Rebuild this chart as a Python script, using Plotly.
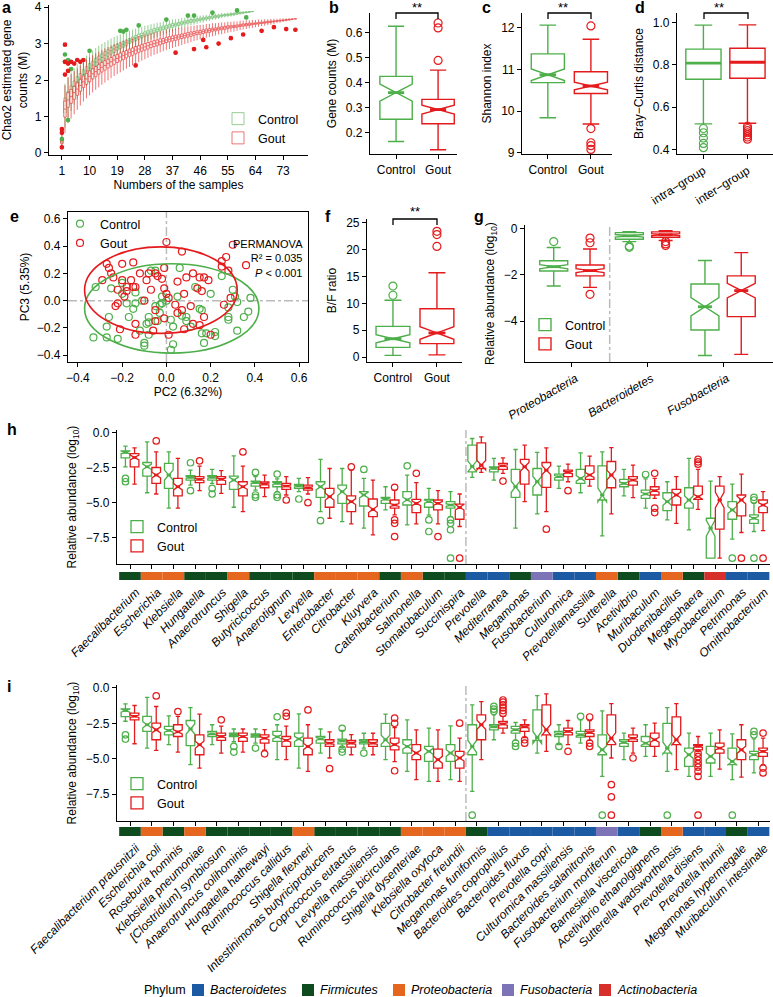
import plotly.graph_objects as go

W, H = 773, 997
FONT = "Arial, Liberation Sans, sans-serif"
GREEN = "#4DAF4A"
RED = "#E41A1C"
PHYLA = ["Bacteroidetes", "Firmicutes", "Proteobacteria", "Fusobacteria", "Actinobacteria"]
PHYLUM_COLORS = ["#1C5AA4", "#0E4B1F", "#E5661E", "#7D73B7", "#D7302B"]

# ---- a: Chao2 rarefaction, one box per number of samples
a_ctrl_med = [0.33, 1.30, 1.50, 1.68, 1.82, 1.95, 2.05, 2.15, 2.25, 2.33,
              2.41, 2.49, 2.56, 2.62, 2.68, 2.74, 2.80, 2.85, 2.90, 2.94,
              2.98, 3.02, 3.07, 3.11, 3.15, 3.19, 3.22, 3.26, 3.29, 3.32,
              3.35, 3.38, 3.40, 3.43, 3.45, 3.48, 3.50, 3.52, 3.54, 3.56,
              3.58, 3.60, 3.62, 3.63, 3.65, 3.67, 3.68, 3.70, 3.71, 3.73,
              3.74, 3.75, 3.77, 3.78, 3.79, 3.80, 3.81, 3.83, 3.84, 3.85,
              3.86, 3.87, 3.88]
a_ctrl_iqr = [0.05, 0.20, 0.18, 0.16, 0.15, 0.14, 0.13, 0.13, 0.12, 0.12,
              0.11, 0.11, 0.10, 0.10, 0.10, 0.09, 0.09, 0.09, 0.08, 0.08,
              0.08, 0.08, 0.07, 0.07, 0.07, 0.07, 0.06, 0.06, 0.06, 0.06,
              0.06, 0.05, 0.05, 0.05, 0.05, 0.05, 0.05, 0.04, 0.04, 0.04,
              0.04, 0.04, 0.04, 0.04, 0.03, 0.03, 0.03, 0.03, 0.03, 0.03,
              0.03, 0.03, 0.02, 0.02, 0.02, 0.02, 0.02, 0.02, 0.02, 0.01,
              0.01, 0.01, 0.00]
a_ctrl_whisk = [0.15, 0.60, 0.56, 0.53, 0.50, 0.48, 0.46, 0.44, 0.42, 0.41,
                0.40, 0.39, 0.38, 0.37, 0.36, 0.35, 0.34, 0.33, 0.32, 0.31,
                0.30, 0.29, 0.28, 0.27, 0.26, 0.25, 0.24, 0.23, 0.22, 0.21,
                0.20, 0.19, 0.18, 0.18, 0.17, 0.16, 0.16, 0.15, 0.14, 0.14,
                0.13, 0.12, 0.12, 0.11, 0.11, 0.10, 0.10, 0.09, 0.09, 0.08,
                0.08, 0.07, 0.07, 0.06, 0.06, 0.06, 0.05, 0.05, 0.04, 0.04,
                0.03, 0.02, 0.00]
a_gout_med = [0.30, 1.20, 1.45, 1.55, 1.65, 1.75, 1.85, 1.95, 2.03, 2.10,
              2.17, 2.23, 2.29, 2.35, 2.40, 2.45, 2.50, 2.55, 2.59, 2.63,
              2.67, 2.71, 2.75, 2.78, 2.82, 2.85, 2.88, 2.91, 2.94, 2.97,
              3.00, 3.02, 3.05, 3.07, 3.10, 3.12, 3.14, 3.16, 3.18, 3.20,
              3.22, 3.24, 3.26, 3.28, 3.30, 3.31, 3.33, 3.35, 3.36, 3.38,
              3.39, 3.41, 3.42, 3.43, 3.45, 3.46, 3.47, 3.48, 3.50, 3.51,
              3.52, 3.53, 3.54, 3.55, 3.56, 3.57, 3.58, 3.59, 3.60, 3.61,
              3.62, 3.63, 3.64, 3.65, 3.66, 3.67, 3.68]
a_gout_iqr = [0.05, 0.22, 0.20, 0.19, 0.18, 0.17, 0.16, 0.16, 0.15, 0.15,
              0.14, 0.14, 0.13, 0.13, 0.13, 0.12, 0.12, 0.12, 0.11, 0.11,
              0.11, 0.10, 0.10, 0.10, 0.10, 0.09, 0.09, 0.09, 0.09, 0.08,
              0.08, 0.08, 0.08, 0.07, 0.07, 0.07, 0.07, 0.07, 0.06, 0.06,
              0.06, 0.06, 0.06, 0.05, 0.05, 0.05, 0.05, 0.05, 0.05, 0.04,
              0.04, 0.04, 0.04, 0.04, 0.04, 0.03, 0.03, 0.03, 0.03, 0.03,
              0.03, 0.03, 0.02, 0.02, 0.02, 0.02, 0.02, 0.02, 0.02, 0.01,
              0.01, 0.01, 0.01, 0.01, 0.01, 0.00, 0.00]
a_gout_whisk = [0.20, 0.65, 0.63, 0.61, 0.59, 0.57, 0.55, 0.54, 0.53, 0.52,
                0.51, 0.50, 0.49, 0.48, 0.47, 0.46, 0.45, 0.44, 0.43, 0.42,
                0.41, 0.40, 0.39, 0.38, 0.37, 0.36, 0.35, 0.34, 0.33, 0.32,
                0.31, 0.30, 0.29, 0.28, 0.28, 0.27, 0.26, 0.25, 0.25, 0.24,
                0.23, 0.23, 0.22, 0.21, 0.21, 0.20, 0.19, 0.19, 0.18, 0.18,
                0.17, 0.16, 0.16, 0.15, 0.15, 0.14, 0.14, 0.13, 0.13, 0.12,
                0.12, 0.11, 0.11, 0.10, 0.10, 0.09, 0.09, 0.08, 0.08, 0.07,
                0.06, 0.06, 0.05, 0.04, 0.03, 0.02, 0.00]
a_ctrl_out_n = [1, 2, 2, 3, 3, 4, 10, 20, 21, 22, 26, 35, 42, 44, 50, 58, 61]
a_ctrl_out_v = [0.38, 2.70, 2.50, 2.55, 0.90, 2.30, 2.80, 3.35, 3.33, 3.38, 3.50, 3.66,
                3.77, 3.77, 3.85, 3.91, 3.72]
a_gout_out_n = [1, 1, 1, 2, 2, 2, 3, 3, 4, 5, 6, 7, 8, 25, 38, 44, 47, 48, 52, 56, 60,
                66, 70, 74, 77]
a_gout_out_v = [0.65, 0.55, 0.15, 2.97, 2.50, 2.15, 2.45, 2.25, 2.50, 2.45, 2.55, 2.50,
                2.55, 2.40, 2.75, 2.85, 3.10, 2.90, 3.00, 3.15, 3.25, 3.35, 3.45, 3.40, 3.38]
a_ticks = [1, 10, 19, 28, 37, 46, 55, 64, 73]

GROUPS = ["Control", "Gout"]
N_CTRL, N_GOUT = len(a_ctrl_med), len(a_gout_med)

# ---- b, c, d, f: two-group boxes  (index 0 = Control, 1 = Gout)
b_q1, b_med, b_q3 = [0.254, 0.236], [0.361, 0.293], [0.426, 0.334]
b_lo, b_hi = [0.165, 0.132], [0.627, 0.451]
b_out = [[], [0.49, 0.62, 0.64]]

c_q1, c_med, c_q3 = [10.68, 10.42], [10.87, 10.60], [11.37, 10.94]
c_lo, c_hi = [9.84, 9.69], [12.06, 11.72]
c_out = [[], [12.04, 9.58, 9.24, 9.17, 9.08]]

d_labels = ["intra\u2212group", "inter\u2212group"]
d_q1, d_med, d_q3 = [0.732, 0.737], [0.808, 0.812], [0.874, 0.878]
d_lo, d_hi = [0.522, 0.525], [0.987, 0.988]
d_out = [[0.50, 0.48, 0.455, 0.43, 0.41], [0.51, 0.50, 0.49, 0.48, 0.47, 0.46, 0.45]]

f_q1, f_med, f_q3 = [1.8, 2.5], [3.4, 4.48], [5.7, 9.0]
f_lo, f_hi = [0.3, 0.4], [10.56, 15.7]
f_out = [[11.5, 13.2], [20.6, 22.8, 23.4]]

# ---- e: PCoA
e_ctrl_pc2 = [-0.32, -0.33, -0.27, -0.27, -0.26, -0.22, -0.17, -0.15, -0.25, -0.2, -0.2,
              -0.14, -0.11, -0.12, -0.1, -0.1, -0.08, -0.08, -0.05, -0.05, -0.03, -0.02,
              -0.02, 0.0, -0.03, -0.04, 0.02, 0.03, 0.02, 0.03, 0.05, 0.06, 0.07, 0.09,
              0.09, 0.11, 0.13, 0.15, 0.16, 0.16, 0.17, 0.18, 0.2, 0.22, 0.22, 0.25, 0.28,
              0.28, 0.28, 0.3, 0.31, 0.32, 0.32, 0.38, 0.37, 0.35, -0.07, -0.18, -0.09,
              -0.08, -0.14]
e_ctrl_pc3 = [0.1, -0.27, -0.27, -0.19, -0.12, -0.28, -0.12, -0.06, 0.09, 0.13, 0.05,
              0.06, 0.0, -0.22, -0.31, -0.33, -0.12, -0.16, 0.22, -0.04, -0.03, -0.02,
              0.03, 0.0, -0.09, -0.15, -0.14, -0.32, -0.36, -0.19, 0.03, 0.24, -0.11,
              -0.12, -0.15, -0.19, 0.1, -0.06, -0.07, -0.24, -0.31, -0.24, 0.05, -0.23,
              -0.26, 0.18, -0.05, -0.12, -0.14, 0.08, 0.03, -0.01, -0.22, 0.02, -0.08,
              -0.12, 0.22, -0.02, -0.17, -0.25, -0.02]
e_gout_pc2 = [0.0, 0.07, -0.27, -0.26, -0.25, -0.2, -0.15, -0.12, -0.08, -0.05, -0.04,
              -0.01, -0.29, -0.24, -0.2, -0.16, -0.02, 0.05, 0.09, 0.12, 0.15, 0.17, 0.19,
              -0.18, -0.15, -0.14, -0.22, -0.18, -0.19, -0.22, -0.23, -0.07, -0.01, 0.0,
              0.01, 0.08, 0.14, 0.16, -0.05, -0.01, -0.05, -0.06, -0.14, 0.01, 0.08, 0.12,
              0.15, 0.2, -0.21, 0.04, 0.11, 0.17, 0.26, 0.29, 0.25, 0.25, 0.27, 0.3, 0.36,
              0.28, -0.14, 0.05, -0.1, 0.07, -0.09]
e_gout_pc3 = [0.43, 0.36, 0.27, 0.24, 0.2, 0.27, 0.28, 0.2, 0.2, 0.2, 0.18, 0.24, 0.15,
              0.17, 0.15, 0.15, 0.16, 0.14, 0.17, 0.2, 0.17, 0.17, 0.15, 0.1, 0.1, 0.1,
              0.08, 0.07, 0.03, -0.02, -0.04, 0.08, 0.09, 0.05, 0.02, 0.05, 0.09, 0.07,
              -0.07, -0.13, -0.15, -0.22, -0.25, -0.25, -0.21, -0.17, -0.18, -0.25, -0.21,
              -0.03, -0.04, -0.12, -0.03, 0.02, 0.25, 0.29, 0.32, 0.41, 0.26, 0.22, -0.17,
              -0.09, 0.0, -0.07, 0.15]
ell_cx, ell_cy = [0.024, -0.025], [-0.057, 0.077]
ell_rx, ell_ry = [0.394, 0.345], [0.328, 0.317]

# ---- g: phylum level
g_phyla = ["Proteobacteria", "Bacteroidetes", "Fusobacteria"]
g_ctrl_q1, g_ctrl_med, g_ctrl_q3 = [-1.83, -0.45, -4.39], [-1.64, -0.30, -3.38], [-1.38, -0.16, -2.39]
g_ctrl_lo, g_ctrl_hi = [-2.48, -0.55, -5.50], [-0.81, -0.12, -1.37]
g_ctrl_out = [[-0.55], [-0.75, -0.80], []]
g_gout_q1, g_gout_med, g_gout_q3 = [-2.04, -0.36, -3.81], [-1.81, -0.25, -2.68], [-1.57, -0.13, -2.04]
g_gout_lo, g_gout_hi = [-2.54, -0.50, -5.45], [-0.87, -0.08, -1.03]
g_gout_out = [[-0.40, -0.60, -2.84], [-0.55, -0.65, -0.72], []]

# ---- h: genus level
h_names = ["Faecalibacterium", "Escherichia", "Klebsiella", "Hungatella", "Anaerotruncus",
           "Shigella", "Butyricicoccus", "Anaerotignum", "Levyella", "Enterobacter",
           "Citrobacter", "Kluyvera", "Catenibacterium", "Salmonella", "Stomatobaculum",
           "Succinispira", "Prevotella", "Mediterranea", "Megamonas", "Fusobacterium",
           "Culturomica", "Prevotellamassilia", "Sutterella", "Acetivibrio", "Muribaculum",
           "Duodenibacillus", "Megasphaera", "Mycobacterium", "Petrimonas", "Ornithobacterium"]
h_phylum = [1, 2, 2, 1, 1, 2, 1, 1, 1, 2, 2, 2, 1, 2, 1, 1, 0, 0, 1, 3, 0, 0, 2, 1, 0, 2, 1, 4, 0, 0]
h_ctrl_q1 = [-1.79, -3.10, -3.98, -3.38, -3.38, -4.05, -3.81, -3.86, -3.98, -4.62, -5.05, -5.24,
             -5.05, -5.17, -5.33, -5.40, -2.79, -2.79, -4.62, -4.45, -3.38, -3.62, -4.81, -3.86,
             -4.69, -5.57, -5.40, -8.98, -6.19, -6.48]
h_ctrl_med = [-1.40, -2.43, -3.02, -3.19, -3.19, -3.38, -3.57, -3.62, -3.81, -3.86, -4.21, -4.45,
              -4.76, -4.80, -4.93, -5.17, -2.40, -2.55, -3.86, -3.50, -3.14, -3.26, -4.45, -3.62,
              -4.38, -4.93, -4.81, -6.83, -5.52, -6.12]
h_ctrl_q3 = [-1.29, -2.12, -2.19, -3.07, -3.07, -3.10, -3.45, -3.50, -3.69, -3.50, -3.74, -4.21,
             -4.62, -4.21, -4.76, -4.93, -0.88, -2.43, -2.62, -2.55, -2.95, -2.62, -2.36, -3.33,
             -4.10, -4.29, -3.93, -6.12, -4.93, -5.88]
h_ctrl_lo = [-2.43, -4.29, -5.40, -3.74, -3.62, -5.33, -4.10, -4.21, -4.21, -5.64, -6.36, -6.83,
             -5.52, -6.60, -5.90, -6.00, -3.19, -3.38, -6.83, -5.81, -3.98, -4.29, -7.38, -4.52,
             -5.40, -6.24, -6.95, -8.98, -7.62, -7.07]
h_ctrl_hi = [-0.95, -0.64, -1.36, -2.67, -2.62, -1.64, -3.14, -3.30, -3.26, -1.90, -2.55, -3.26,
             -3.86, -3.02, -3.98, -4.21, -0.40, -1.83, -1.19, -1.40, -2.38, -1.43, -1.36, -2.62,
             -3.30, -3.50, -1.83, -3.45, -3.67, -5.05]
h_ctrl_out = [[-3.26, -3.5], [], [], [-2.14, -4.14], [-3.98, -4.38], [], [-2.83, -4.45, -4.62],
              [-2.95, -4.45, -4.62], [-4.74], [-6.29], [], [-2.62], [], [-2.36], [-6.24, -7.07],
              [-6.24, -6.48, -6.95, -8.98], [], [], [], [], [], [], [], [], [-2.98], [], [], [],
              [-8.98], [-4.62, -4.81, -8.98]]
h_gout_q1 = [-2.43, -3.62, -4.52, -3.57, -3.69, -4.52, -3.93, -4.05, -4.10, -5.33, -5.64, -6.00,
             -5.40, -5.71, -5.52, -6.19, -2.55, -2.62, -3.67, -3.90, -3.14, -3.33, -3.93, -3.74,
             -4.45, -5.17, -4.76, -6.90, -5.95, -5.71]
h_gout_med = [-1.76, -3.02, -3.86, -3.33, -3.33, -3.86, -3.67, -3.81, -3.93, -4.57, -4.93, -5.48,
              -5.17, -5.05, -5.05, -5.33, -2.31, -2.36, -2.43, -2.67, -2.83, -3.02, -3.02, -3.38,
              -4.14, -4.45, -4.57, -4.81, -4.81, -5.17]
h_gout_q3 = [-1.48, -2.48, -3.26, -3.14, -3.14, -3.50, -3.52, -3.62, -3.74, -3.98, -4.52, -4.74,
             -4.81, -4.76, -4.81, -5.10, -0.71, -2.19, -1.90, -2.12, -2.67, -2.36, -2.05, -3.14,
             -3.86, -4.05, -3.81, -3.81, -4.45, -4.81]
h_gout_lo = [-3.67, -4.38, -5.40, -4.14, -4.33, -5.64, -4.57, -4.45, -4.38, -6.12, -6.52, -7.31,
             -5.88, -6.52, -6.52, -6.71, -2.83, -2.90, -4.93, -5.64, -3.50, -3.81, -5.81, -4.64,
             -4.69, -6.48, -5.48, -8.98, -7.14, -7.00]
h_gout_hi = [-1.07, -1.36, -1.83, -2.38, -2.71, -2.38, -3.02, -3.14, -3.21, -2.55, -2.67, -3.38,
             -4.10, -3.57, -4.14, -4.38, -0.29, -1.79, -0.88, -1.07, -2.24, -1.67, -1.05, -2.31,
             -3.26, -3.14, -2.62, -3.14, -2.95, -4.21]
h_gout_out = [[], [-0.57], [], [-2.0], [], [-1.36], [], [-4.81], [-5.0], [], [-2.43], [],
              [-3.9, -6.24, -6.48, -7.43], [-2.9], [-7.43], [-8.98], [], [-3.45], [], [-6.9],
              [-4.14], [], [], [], [-2.9, -5.4, -5.71], [], [-1.9, -2.07, -2.24], [], [-8.98],
              [-8.98]]

# ---- i: species level
i_names = ["Faecalibacterium prausnitzii", "Escherichia coli", "Roseburia hominis",
           "Klebsiella pneumoniae", "[Clostridium] symbiosum", "Anaerotruncus colihominis",
           "Hungatella hathewayi", "Ruminococcus callidus", "Shigella flexneri",
           "Intestinimonas butyriciproducens", "Coprococcus eutactus", "Levyella massiliensis",
           "Ruminococcus bicirculans", "Shigella dysenteriae", "Klebsiella oxytoca",
           "Citrobacter freundii", "Megamonas funiformis", "Bacteroides coprophilus",
           "Bacteroides fluxus", "Prevotella copri", "Culturomica massiliensis",
           "Bacteroides salanitronis", "Fusobacterium mortiferum", "Barnesiella viscericola",
           "Acetivibrio ethanolgignens", "Sutterella wadsworthensis", "Prevotella disiens",
           "Prevotella ihumii", "Megamonas hypermegale", "Muribaculum intestinale"]
i_phylum = [1, 2, 1, 2, 1, 1, 1, 1, 2, 1, 1, 1, 1, 2, 2, 2, 1, 0, 0, 0, 0, 0, 3, 0, 1, 2, 0, 0, 1, 0]
i_ctrl_q1 = [-2.02, -3.07, -3.31, -4.08, -3.43, -3.43, -3.48, -3.78, -4.13, -3.90, -3.95, -3.95,
             -4.13, -4.60, -5.19, -5.19, -4.72, -2.96, -3.19, -3.70, -3.43, -3.48, -4.72, -4.13,
             -4.13, -4.60, -5.54, -5.30, -5.42, -5.07]
i_ctrl_med = [-1.60, -2.60, -3.00, -2.90, -3.24, -3.30, -3.35, -3.45, -3.60, -3.60, -3.75, -3.80,
              -3.66, -4.13, -4.48, -4.60, -4.13, -2.75, -2.95, -3.50, -3.24, -3.30, -4.37, -3.85,
              -3.90, -4.25, -4.72, -4.83, -5.19, -4.72]
i_ctrl_q3 = [-1.48, -2.00, -2.72, -2.30, -3.07, -3.19, -3.24, -3.07, -3.19, -3.43, -3.61, -3.66,
             -2.50, -3.66, -4.13, -4.01, -2.60, -2.60, -2.72, -1.55, -3.07, -3.07, -3.31, -3.66,
             -3.43, -2.50, -4.25, -4.13, -4.25, -4.48]
i_ctrl_lo = [-2.35, -4.25, -4.01, -5.42, -4.01, -3.80, -3.90, -5.07, -5.66, -4.60, -4.20, -4.25,
             -5.07, -5.90, -6.60, -6.48, -7.30, -3.66, -3.70, -4.60, -4.01, -3.90, -6.25, -5.07,
             -4.83, -5.90, -6.25, -6.25, -6.48, -6.00]
i_ctrl_hi = [-1.13, -0.66, -1.97, -1.39, -2.60, -2.90, -2.90, -2.60, -1.83, -2.90, -3.00, -3.20,
             -1.85, -2.25, -2.84, -2.68, -1.20, -1.90, -2.44, -0.54, -2.60, -2.25, -1.62, -3.19,
             -2.60, -1.39, -3.19, -3.19, -3.24, -3.60]
i_ctrl_out = [[-3.31, -3.61], [], [], [], [], [-4.13, -4.53], [-4.25], [-2.04], [], [],
              [-2.85, -4.32, -4.53], [-4.6], [], [], [], [], [-8.99], [-1.3, -1.5, -1.65],
              [-3.9, -4.13], [], [-4.13], [-2.0], [-8.99], [], [], [-8.99], [], [], [-8.99],
              [-3.07, -3.31]]
i_gout_q1 = [-2.25, -3.66, -3.43, -4.72, -3.70, -3.78, -3.90, -4.13, -4.72, -4.13, -4.18, -4.13,
             -4.37, -5.07, -5.66, -5.66, -3.66, -2.84, -3.07, -3.31, -3.31, -3.43, -4.01, -3.78,
             -4.13, -4.01, -4.37, -4.60, -5.07, -4.83]
i_gout_med = [-2.00, -2.96, -3.10, -4.01, -3.43, -3.43, -3.55, -3.70, -4.13, -3.90, -3.90, -3.90,
              -4.00, -4.60, -5.07, -4.95, -2.60, -2.55, -2.75, -2.96, -3.07, -3.15, -3.55, -3.55,
              -3.66, -3.66, -4.13, -4.25, -4.37, -4.48]
i_gout_q3 = [-1.78, -2.49, -2.60, -3.31, -3.19, -3.19, -3.31, -3.43, -3.55, -3.66, -3.71, -3.66,
             -3.55, -4.01, -4.32, -4.48, -1.90, -2.37, -2.60, -1.20, -2.84, -2.96, -1.90, -3.31,
             -3.19, -2.04, -4.01, -3.90, -3.66, -4.25]
i_gout_lo = [-3.94, -4.41, -4.53, -5.66, -4.60, -4.53, -4.40, -5.07, -5.90, -4.95, -4.72, -4.72,
             -5.20, -6.48, -6.60, -6.60, -5.07, -3.19, -3.50, -4.48, -4.00, -3.70, -4.95, -4.60,
             -4.83, -5.77, -4.50, -5.73, -6.30, -5.42]
i_gout_hi = [-1.24, -1.31, -2.00, -1.85, -2.70, -2.90, -2.95, -2.70, -2.60, -3.10, -3.30, -3.20,
             -2.80, -2.96, -2.96, -3.54, -0.96, -2.00, -2.25, -0.42, -2.30, -2.30, -1.10, -2.84,
             -2.49, -1.10, -3.43, -2.96, -2.60, -3.55]
i_gout_out = [[], [-0.56], [-1.67], [], [-2.25], [], [-4.65], [-1.76, -2.0], [-1.55], [-5.7],
              [], [], [-2.13, -2.5, -5.85], [], [], [-2.49], [],
              [-0.85, -1.0, -1.2, -1.4, -1.6, -1.8], [-3.66, -3.9], [], [-4.48],
              [-2.05, -3.9, -4.13], [-6.83, -7.7, -8.99], [-4.95], [], [],
              [-4.6, -4.85, -5.1, -5.35, -5.6, -5.9, -6.25, -8.99], [], [], [-3.19, -5.66, -6.0]]

fig = go.Figure()


def sfx(n):
    return "" if n == 1 else str(n)


AXIS = dict(showline=True, linecolor="black", linewidth=1.2, ticks="outside", ticklen=4,
            tickwidth=1.2, tickcolor="black", showgrid=False, zeroline=False, automargin=False,
            tickfont=dict(size=12, color="black"), title_font=dict(size=12, color="black"))


def set_axes(n, x0, x1, y0, y1, xopts, yopts):
    s = sfx(n)
    fig.update_layout(**{
        "xaxis" + s: {**AXIS, "domain": [x0 / W, x1 / W], "anchor": "y" + s, **xopts},
        "yaxis" + s: {**AXIS, "domain": [1 - y1 / H, 1 - y0 / H], "anchor": "x" + s, **yopts},
    })


def add_boxes(n, pos, q1, med, q3, lo, hi, color, width, n_obs=None, name="",
              legend=None, lw=1.4, whisk=0.5, opacity=1.0, bold=True):
    s = sfx(n)
    notch = None
    if n_obs:
        notch = [1.58 * (b - a) / n_obs ** 0.5 for a, b in zip(q1, q3)]
    fig.add_trace(go.Box(
        x=pos, q1=q1, median=med, q3=q3, lowerfence=lo, upperfence=hi,
        notched=notch is not None, notchspan=notch, notchwidth=0.5, width=width,
        fillcolor="white", line=dict(color=color, width=lw), whiskerwidth=whisk,
        boxpoints=False, orientation="v", opacity=opacity, name=name,
        showlegend=legend is not None, legend=legend or "legend",
        xaxis="x" + s, yaxis="y" + s, hoverinfo="skip"))
    if bold:
        half = width / 4 if notch else width / 2
        xs, ys = [], []
        for p, m in zip(pos, med):
            xs += [p - half, p + half, None]
            ys += [m, m, None]
        fig.add_trace(go.Scatter(x=xs, y=ys, mode="lines", line=dict(color=color, width=lw * 2),
                                 showlegend=False, hoverinfo="skip", xaxis="x" + s, yaxis="y" + s))


def add_points(n, pos, outs, color, size=7, symbol="circle-open"):
    s = sfx(n)
    xs, ys = [], []
    for p, vals in zip(pos, outs):
        xs += [p] * len(vals)
        ys += vals
    fig.add_trace(go.Scatter(x=xs, y=ys, mode="markers", showlegend=False, hoverinfo="skip",
                             marker=dict(symbol=symbol, size=size, color=color,
                                         line=dict(color=color, width=1.2)),
                             xaxis="x" + s, yaxis="y" + s))


def bracket(x0, x1, y, label_y):
    fig.add_shape(type="path", xref="paper", yref="paper",
                  path=f"M {x0 / W},{1 - (y + 6) / H} L {x0 / W},{1 - y / H} "
                       f"L {x1 / W},{1 - y / H} L {x1 / W},{1 - (y + 6) / H}",
                  line=dict(color="black", width=1.3))
    fig.add_annotation(x=(x0 + x1) / 2 / W, y=1 - label_y / H, xref="paper", yref="paper",
                       text="**", showarrow=False, font=dict(size=13), yanchor="middle")


# ---- a
nc = list(range(1, N_CTRL + 1))
ng = list(range(1, N_GOUT + 1))
for pos, med, iqr, wh, col, nm in [(nc, a_ctrl_med, a_ctrl_iqr, a_ctrl_whisk, GREEN, "Control"),
                                   (ng, a_gout_med, a_gout_iqr, a_gout_whisk, RED, "Gout")]:
    add_boxes(1, pos, [m - d for m, d in zip(med, iqr)], med, [m + d for m, d in zip(med, iqr)],
              [m - w for m, w in zip(med, wh)], [m + w for m, w in zip(med, wh)], col, 0.8,
              name=nm, legend="legend", lw=0.8, whisk=0, opacity=0.75, bold=False)
add_points(1, a_ctrl_out_n, [[v] for v in a_ctrl_out_v], GREEN, size=3.5, symbol="circle")
add_points(1, a_gout_out_n, [[v] for v in a_gout_out_v], RED, size=3.5, symbol="circle")
set_axes(1, 49, 308, 5, 155,
         dict(range=[-3.2, 81.1], tickvals=a_ticks, title=dict(text="Numbers of the samples", standoff=4)),
         dict(range=[-0.06, 4.06], tickvals=[0, 1, 2, 3, 4],
              title=dict(text="Chao2 estimated gene<br>counts (M)", standoff=6)))

# ---- b, c, f (Control vs Gout), d
two = [(2, b_q1, b_med, b_q3, b_lo, b_hi, b_out), (3, c_q1, c_med, c_q3, c_lo, c_hi, c_out),
       (6, f_q1, f_med, f_q3, f_lo, f_hi, f_out)]
for n, q1, med, q3, lo, hi, out in two:
    for k, (col, nobs) in enumerate([(GREEN, N_CTRL), (RED, N_GOUT)]):
        add_boxes(n, [k], [q1[k]], [med[k]], [q3[k]], [lo[k]], [hi[k]], col, 0.77, n_obs=nobs)
        add_points(n, [k], [out[k]], col, size=8)
for k, col in enumerate([GREEN, RED]):
    add_boxes(4, [k], [d_q1[k]], [d_med[k]], [d_q3[k]], [d_lo[k]], [d_hi[k]], col, 0.8)
    add_points(4, [k], [d_out[k]], col, size=8)

xgrp = dict(tickvals=[0, 1], ticktext=GROUPS)
set_axes(2, 370, 457, 13, 154, dict(xgrp, range=[-0.62, 1.45]),
         dict(range=[0.115, 0.68], tickvals=[0.2, 0.3, 0.4, 0.5, 0.6], tickformat=".1f",
              title=dict(text="Gene counts (M)", standoff=6)))
set_axes(3, 522, 612, 13, 154, dict(xgrp, range=[-0.6, 1.49]),
         dict(range=[8.97, 12.35], tickvals=[9, 10, 11, 12], title=dict(text="Shannon index", standoff=6)))
set_axes(4, 677, 773, 13, 154,
         dict(range=[-0.6, 1.58], tickvals=[0, 1], ticktext=d_labels, tickangle=-32),
         dict(range=[0.38, 1.044], tickvals=[0.4, 0.6, 0.8, 1.0], tickformat=".1f",
              title=dict(text="Bray\u2212Curtis distance", standoff=6)))
set_axes(6, 367, 462, 219, 362, dict(xgrp, range=[-0.59, 1.57]),
         dict(range=[-0.93, 25.7], tickvals=[0, 5, 10, 15, 20, 25], title=dict(text="B/F ratio", standoff=6)))
bracket(396, 438, 13, 7)
bracket(548, 591, 13, 7)
bracket(704, 748, 13, 7)
bracket(393, 437, 219, 212)

# ---- e
for px_, py_, col, nm in [(e_ctrl_pc2, e_ctrl_pc3, GREEN, "Control"), (e_gout_pc2, e_gout_pc3, RED, "Gout")]:
    fig.add_trace(go.Scatter(x=px_, y=py_, mode="markers", name=nm, legend="legend2",
                             marker=dict(symbol="circle-open", size=7, color=col, line=dict(width=1.2)),
                             xaxis="x5", yaxis="y5", hoverinfo="skip"))
for k, col in enumerate([GREEN, RED]):
    fig.add_shape(type="circle", xref="x5", yref="y5", x0=ell_cx[k] - ell_rx[k], x1=ell_cx[k] + ell_rx[k],
                  y0=ell_cy[k] - ell_ry[k], y1=ell_cy[k] + ell_ry[k], line=dict(color=col, width=1.6))
fig.add_shape(type="line", xref="x5", yref="y5 domain", x0=0, x1=0, y0=0, y1=1,
              line=dict(color="#BBBBBB", width=1.5, dash="dashdot"), layer="below")
fig.add_shape(type="line", xref="x5 domain", yref="y5", x0=0, x1=1, y0=0, y1=0,
              line=dict(color="#BBBBBB", width=1.5, dash="dashdot"), layer="below")
set_axes(5, 68, 308, 212, 362,
         dict(range=[-0.445, 0.64], tickvals=[-0.4, -0.2, 0, 0.2, 0.4, 0.6], tickformat=".1f",
              mirror=True, title=dict(text="PC2 (6.32%)", standoff=4)),
         dict(range=[-0.45, 0.65], tickvals=[-0.4, -0.2, 0, 0.2, 0.4, 0.6], tickformat=".1f",
              mirror=True, title=dict(text="PC3 (5.35%)", standoff=4)))
fig.add_annotation(x=305 / W, y=1 - 236 / H, xref="paper", yref="paper", xanchor="right", align="right",
                   showarrow=False, font=dict(size=11),
                   text="PERMANOVA<br>R\u00b2 = 0.035<br><i>P</i> &lt; 0.001")

# ---- g
gpos = list(range(len(g_phyla)))
add_boxes(7, [p - 0.24 for p in gpos], g_ctrl_q1, g_ctrl_med, g_ctrl_q3, g_ctrl_lo, g_ctrl_hi, GREEN,
          0.37, n_obs=N_CTRL, name="Control", legend="legend3")
add_boxes(7, [p + 0.24 for p in gpos], g_gout_q1, g_gout_med, g_gout_q3, g_gout_lo, g_gout_hi, RED,
          0.37, n_obs=N_GOUT, name="Gout", legend="legend3")
add_points(7, [p - 0.24 for p in gpos], g_ctrl_out, GREEN, size=8)
add_points(7, [p + 0.24 for p in gpos], g_gout_out, RED, size=8)
fig.add_shape(type="line", xref="x7", yref="y7 domain", x0=0.5, x1=0.5, y0=0, y1=1,
              line=dict(color="#BBBBBB", width=1.5, dash="dashdot"))
set_axes(7, 525, 773, 225, 362,
         dict(range=[-0.62, 2.66], tickvals=gpos, ticktext=[f"<i>{p}</i>" for p in g_phyla],
              tickangle=-30, ticklabelshift=4),
         dict(range=[-5.78, 0.17], tickvals=[0, -2, -4],
              title=dict(text="Relative abundance (log<sub>10</sub>)", standoff=6)))


# ---- h, i
def taxa_panel(n, y0, y1, bar0, bar1, names, phylum, ctrl, gout, ctrl_out, gout_out, leg):
    pos = list(range(len(names)))
    add_boxes(n, [p - 0.21 for p in pos], *ctrl, GREEN, 0.4, n_obs=N_CTRL, name="Control", legend=leg, lw=1.3)
    add_boxes(n, [p + 0.21 for p in pos], *gout, RED, 0.4, n_obs=N_GOUT, name="Gout", legend=leg, lw=1.3)
    add_points(n, [p - 0.21 for p in pos], ctrl_out, GREEN, size=6.5)
    add_points(n, [p + 0.21 for p in pos], gout_out, RED, size=6.5)
    fig.add_shape(type="line", xref=f"x{n}", yref=f"y{n} domain", x0=15.5, x1=15.5, y0=0, y1=1,
                  line=dict(color="#BBBBBB", width=1.5, dash="dashdot"))
    set_axes(n, 117, 770, y0, y1,
             dict(range=[-0.6, 29.53], tickvals=pos, showticklabels=False),
             dict(range=[-9.4, 0.21], tickvals=[0, -2.5, -5, -7.5], tickformat=".1f",
                  title=dict(text="Relative abundance (log<sub>10</sub>)", standoff=6)))
    for k, ph in enumerate(PHYLA):
        idx = [p for p in pos if phylum[p] == k]
        fig.add_trace(go.Bar(x=idx, y=[1] * len(idx), width=1, showlegend=False,
                             marker=dict(color=PHYLUM_COLORS[k], line=dict(width=0)),
                             xaxis=f"x{n + 1}", yaxis=f"y{n + 1}", hoverinfo="skip"))
    set_axes(n + 1, 117, 770, bar0, bar1,
             dict(range=[-0.6, 29.53], tickvals=pos, ticktext=[f"<i>{t}</i>" for t in names],
                  tickangle=-45, showline=False, ticks="", tickfont=dict(size=12),
                  ticklabelshift=6, ticklabelstandoff=2),
             dict(range=[0, 1], showline=False, ticks="", showticklabels=False))


taxa_panel(8, 430, 564, 572, 580, h_names, h_phylum,
           (h_ctrl_q1, h_ctrl_med, h_ctrl_q3, h_ctrl_lo, h_ctrl_hi),
           (h_gout_q1, h_gout_med, h_gout_q3, h_gout_lo, h_gout_hi),
           h_ctrl_out, h_gout_out, "legend4")
taxa_panel(10, 685, 821, 827, 836, i_names, i_phylum,
           (i_ctrl_q1, i_ctrl_med, i_ctrl_q3, i_ctrl_lo, i_ctrl_hi),
           (i_gout_q1, i_gout_med, i_gout_q3, i_gout_lo, i_gout_hi),
           i_ctrl_out, i_gout_out, "legend5")

# ---- phylum key along the bottom
fig.add_annotation(x=142 / W, y=1 - 990 / H, xref="paper", yref="paper", text="Phylum",
                   showarrow=False, xanchor="left", yanchor="middle", font=dict(size=12.5))
key_x = [192, 302, 393, 502, 599]
for k, ph in enumerate(PHYLA):
    fig.add_shape(type="rect", xref="paper", yref="paper", x0=key_x[k] / W, x1=(key_x[k] + 12) / W,
                  y0=1 - 996 / H, y1=1 - 984 / H, fillcolor=PHYLUM_COLORS[k], line=dict(width=0))
    fig.add_annotation(x=(key_x[k] + 16) / W, y=1 - 990 / H, xref="paper", yref="paper",
                       text=f"<i>{ph}</i>", showarrow=False, xanchor="left", yanchor="middle",
                       font=dict(size=12.5))

# ---- panel letters
for letter, x, y in [("a", 0, 8), ("b", 327, 8), ("c", 480, 8), ("d", 633, 8), ("e", 8, 216),
                     ("f", 323, 216), ("g", 472, 216), ("h", 5, 430), ("i", 5, 686)]:
    fig.add_annotation(x=x / W, y=1 - y / H, xref="paper", yref="paper", text=f"<b>{letter}</b>",
                       showarrow=False, xanchor="left", yanchor="middle", font=dict(size=16))

LEG = dict(bgcolor="rgba(0,0,0,0)", font=dict(size=12.5), xanchor="left", yanchor="top",
           tracegroupgap=0, itemwidth=30)
fig.update_layout(
    width=W, height=H, margin=dict(l=0, r=0, t=0, b=0, autoexpand=False),
    paper_bgcolor="white", plot_bgcolor="white",
    font=dict(family=FONT, color="black", size=12),
    boxmode="overlay", barmode="overlay", showlegend=True,
    legend=dict(LEG, x=218 / W, y=1 - 104 / H),
    legend2=dict(LEG, x=60 / W, y=1 - 209 / H),
    legend3=dict(LEG, x=525 / W, y=1 - 310 / H),
    legend4=dict(LEG, x=117 / W, y=1 - 512 / H),
    legend5=dict(LEG, x=117 / W, y=1 - 769 / H),
)

fig.write_html("out.html", config={"displayModeBar": False},
               post_script="document.body.style.margin = '0';")
